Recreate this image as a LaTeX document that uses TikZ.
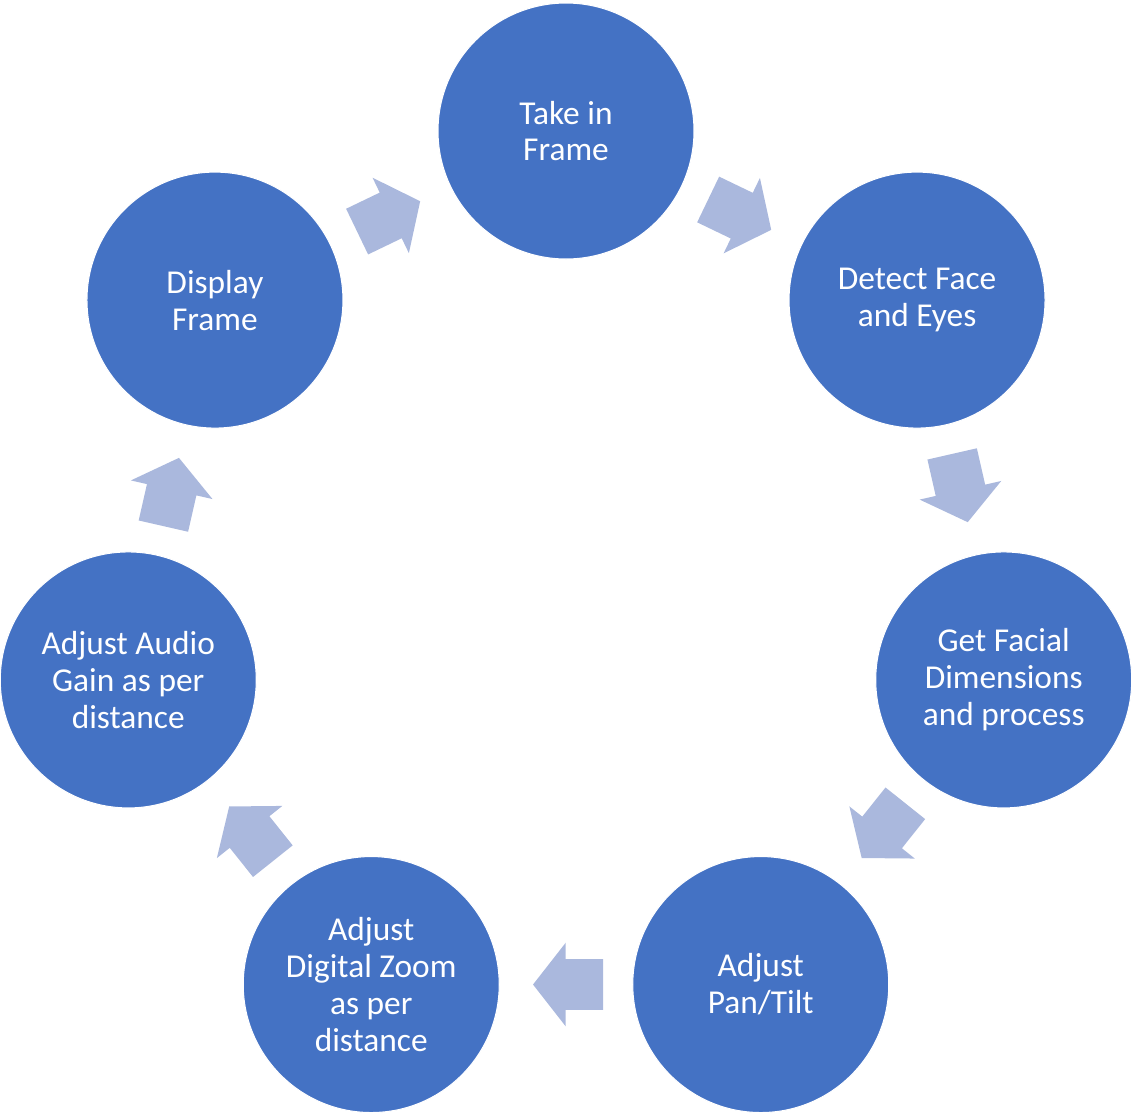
\documentclass[tikz,border=0pt]{standalone}
\usepackage{fontspec}
\setmainfont{Carlito}
\definecolor{CycleBlue}{HTML}{4472C4}
\definecolor{CycleArrow}{HTML}{AAB8DD}
\usetikzlibrary{shapes.arrows, calc}

\begin{document}
\begin{tikzpicture}[
      stepnode/.style={circle, fill=CycleBlue, draw=white, line width=0.6pt,
         minimum size=5.12cm, inner sep=0pt, align=center, text=white,
         font=\fontsize{19}{21}\selectfont},
      cyclearrow/.style={single arrow, fill=CycleArrow, draw=none,
         minimum height=1.4cm, minimum width=1.66cm,
         inner xsep=0pt, inner ysep=0.5cm,
         single arrow head extend=0.33cm, single arrow tip angle=104,
         sloped, allow upside down}
   ]
   % Canvas
   \useasboundingbox (-11.32,-10.64) rectangle (11.32,11.6);
   % Steps on the cycle (radius 8.98, clockwise from the top)
   \node[stepnode] (take)    at (90:8.98)      {Take in\\Frame};
   \node[stepnode] (detect)  at (38.57:8.98)   {Detect Face\\and Eyes};
   \node[stepnode] (facial)  at (-12.86:8.98)  {Get Facial\\Dimensions\\and process};
   \node[stepnode] (pantilt) at (-64.29:8.98)  {Adjust\\Pan/Tilt};
   \node[stepnode] (zoom)    at (-115.71:8.98) {Adjust\\Digital Zoom\\as per\\distance};
   \node[stepnode] (audio)   at (-167.14:8.98) {Adjust Audio\\Gain as per\\distance};
   \node[stepnode] (display) at (141.43:8.98)  {Display\\Frame};
   % Block arrows between the steps
   % (pos 0.41: the shape's centre sits in the shaft, not mid-arrow)
   \foreach \from/\to in {take/detect, detect/facial, facial/pantilt,
      pantilt/zoom, zoom/audio, audio/display, display/take}
      \path (\from) -- node[cyclearrow, pos=0.41] {} (\to);
\end{tikzpicture}
\end{document}
